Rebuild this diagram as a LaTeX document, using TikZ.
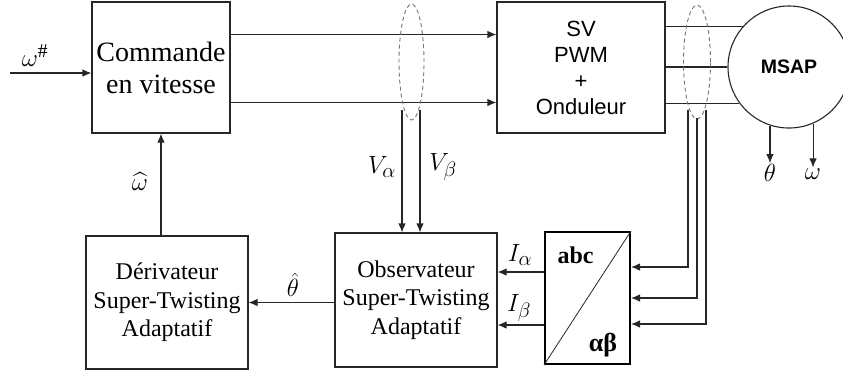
\documentclass[tikz,border=0pt]{standalone}
\usepackage{fontspec}
\setmainfont{Liberation Serif}
\setsansfont{Liberation Sans}
\usepackage{amsmath}
\usetikzlibrary{arrows.meta, shapes.geometric, calc}
\tikzset{
  ctrlbox/.style   = {rectangle, draw=black!85, line width=1.1pt, align=center, inner sep=0pt,
                      font=\fontsize{24}{28.5}\selectfont},
  cmdbox/.style    = {ctrlbox, font=\fontsize{28}{32}\selectfont},
  pwmbox/.style    = {ctrlbox, font=\sffamily\fontsize{22}{26}\selectfont},
  machine/.style   = {circle, draw=black!85, line width=1.1pt, inner sep=0pt, minimum size=122,
                      font=\sffamily\bfseries\fontsize{19.5}{22}\selectfont},
  trafo/.style     = {rectangle, draw=black, line width=2pt, inner sep=0pt},
  bundle/.style    = {ellipse, draw=black!55, dash pattern=on 4pt off 3pt, line width=0.9pt, inner sep=0pt},
  lbl/.style       = {inner sep=1pt, font=\fontsize{28}{32}\selectfont},
  sig/.style       = {draw=black!85, line width=1.1pt, -{Latex[length=9pt,width=7.5pt]}},
  wire/.style      = {draw=black!85, line width=1.1pt},
}

\begin{document}
\begin{tikzpicture}[x=1pt, y=-1pt]
\useasboundingbox (0,0) rectangle (843,376);

% =============== TOP ROW ===============
\node (cmd) [cmdbox, minimum width=138, minimum height=131] at (161,67.5) {Commande\\en vitesse};
\node (sv)  [pwmbox, minimum width=168, minimum height=131] at (581,67.5) {SV\\PWM\\+\\Onduleur};
\node (msap) [machine] at (789,67) {MSAP};

% reference input
\coordinate (ref) at (10,73);
\node (wref) [lbl] at (35,56) {$\omega^{\#}$};
\draw[sig] (ref) -- (cmd.west |- ref);

% commande -> SV PWM
\draw[sig] ([yshift=33pt]cmd.east) -- ([yshift=33pt]cmd.east -| sv.west);
\draw[sig] ([yshift=-35pt]cmd.east) -- ([yshift=-35pt]cmd.east -| sv.west);

% onduleur -> machine (three phases)
\draw[wire] (sv.east |- msap.139) -- (msap.139);
\draw[wire] (sv.east |- msap.west) -- (msap.west);
\draw[wire] (sv.east |- msap.216) -- (msap.216);

% machine outputs
\node (th) [lbl] at (770,173) {$\theta$};
\node (om) [lbl] at (813,174) {$\omega$};
\draw[sig] (msap.252) -- (msap.252 |- th.north);
\draw[sig] (msap.293) -- (msap.293 |- om.north);

% dashed bundles
\node (bv) [bundle, minimum width=25, minimum height=116] at (411.5,62) {};
\node (bi) [bundle, minimum width=27, minimum height=114] at (697,62) {};

% =============== BOTTOM ROW ===============
\node (der) [ctrlbox, minimum width=162, minimum height=133] at (167,302.5) {D\'erivateur\\Super-Twisting\\Adaptatif};
\node (obs) [ctrlbox, minimum width=162, minimum height=134] at (416,300) {Observateur\\Super-Twisting\\Adaptatif};
\node (abc) [trafo, minimum width=85, minimum height=132] at (587.5,298) {};
\draw[line width=0.8pt, black!85] (abc.south west) -- (abc.north east);
\node (abct) [font=\bfseries\fontsize{24}{26}\selectfont, inner sep=0pt] at (575.5,255) {abc};
\node (abcb) [font=\bfseries\fontsize{26}{28}\selectfont, inner sep=0pt] at (603,345) {αβ};

% voltages -> observateur
\coordinate (va) at (402,110);
\coordinate (vb) at (420,110);
\draw[sig] (va) -- (va |- obs.north);
\draw[sig] (vb) -- (vb |- obs.north);
\node (lva) [lbl] at (382,167) {$V_\alpha$};
\node (lvb) [lbl] at (443,167) {$V_\beta$};

% currents -> abc/alpha-beta
\coordinate (ia) at (688,110);
\coordinate (ib) at (697,118);
\coordinate (ic) at (706,110);
\draw[sig] (ia) |- ([yshift=31pt]abc.east);
\draw[sig] (ib) |- (abc.east);
\draw[sig] (ic) |- ([yshift=-26pt]abc.east);

% abc/alpha-beta -> observateur
\draw[sig] ([yshift=26pt]abc.west) -- ([yshift=26pt]abc.west -| obs.east);
\draw[sig] ([yshift=-27pt]abc.west) -- ([yshift=-27pt]abc.west -| obs.east);
\node (lia) [lbl] at (520,255) {$I_\alpha$};
\node (lib) [lbl] at (519,308) {$I_\beta$};

% observateur -> derivateur -> commande
\draw[sig] (obs.west |- der.east) -- (der.east);
\node (lth) [lbl] at (293,285) {$\hat{\theta}$};
\draw[sig] (der.north -| cmd.south) -- (cmd.south);
\node (lom) [lbl] at (140,182) {$\widehat{\omega}$};

\end{tikzpicture}
\end{document}
